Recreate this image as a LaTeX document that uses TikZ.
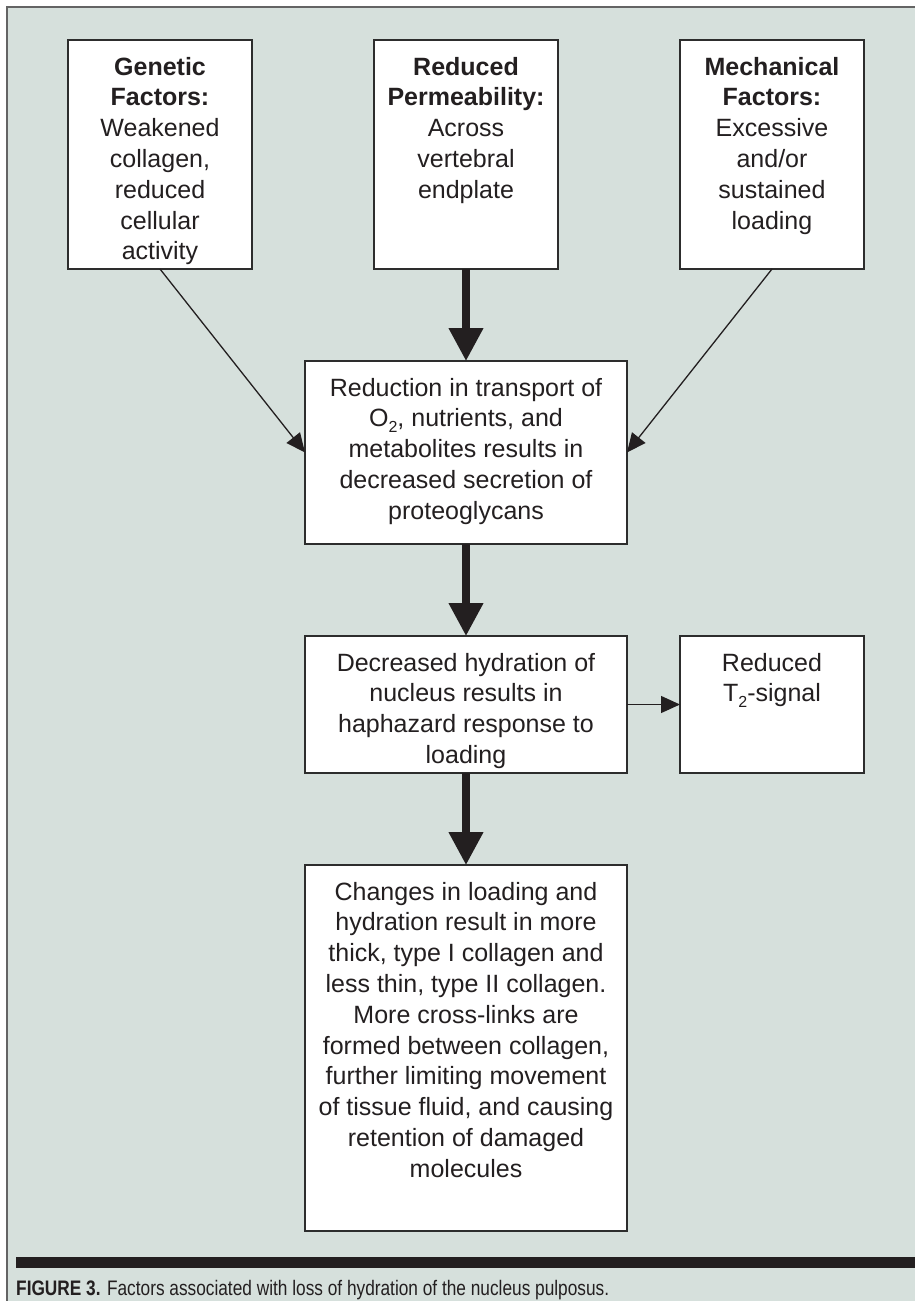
\documentclass[tikz,border=0pt]{standalone}
\usepackage{fontspec}
\setmainfont{Liberation Sans}
\usetikzlibrary{arrows.meta}
\definecolor{bgc}{RGB}{214,224,220}
\definecolor{ink}{RGB}{35,31,32}
\definecolor{boxline}{RGB}{45,45,45}
\definecolor{frameline}{RGB}{100,100,100}
\newcommand\bxt[3]{\parbox[c][#2pt][t]{#1pt}{\vspace*{13.5pt}\centering\strut #3}}
\newcommand\lowsub[1]{\raisebox{-6pt}{\fontsize{16}{16}\selectfont #1}}
\begin{document}
\begin{tikzpicture}[x=1pt,y=-1pt,
  box/.style={draw=boxline, fill=white, line width=1.3pt, inner sep=0pt, outer sep=0pt,
    font=\fontsize{25}{30.8}\selectfont, text=ink},
  thick arrow/.style={draw=ink, line width=7.3pt, -{Triangle[length=33pt,width=33pt]}},
  thin arrow/.style={draw=ink, line width=1.3pt, -{Triangle[length=19pt,width=17pt]}}]
\useasboundingbox (0,0) rectangle (915,1301);
\fill[white] (0,0) rectangle (915,1301);
\fill[bgc] (7,7) rectangle (915,1301);
\draw[frameline, line width=1.3pt] (7,1301) -- (7,7) -- (915,7);

\node[box] (gen) at (160,154.5) {\bxt{184}{229}{\textbf{Genetic}\\\textbf{Factors:}\\Weakened\\collagen,\\reduced\\cellular\\activity}};
\node[box] (perm) at (466,154.5) {\bxt{184}{229}{\textbf{Reduced}\\\textbf{Permeability:}\\Across\\vertebral\\endplate}};
\node[box] (mech) at (772,154.5) {\bxt{184}{229}{\textbf{Mechanical}\\\textbf{Factors:}\\Excessive\\and/or\\sustained\\loading}};
\node[box] (mid) at (466,452.5) {\bxt{322}{183}{Reduction in transport of\\O\lowsub{2}, nutrients, and\\metabolites results in\\decreased secretion of\\proteoglycans}};
\node[box] (dec) at (466,704.5) {\bxt{322}{137}{Decreased hydration of\\nucleus results in\\haphazard response to\\loading}};
\node[box] (t2) at (772,704.5) {\bxt{184}{137}{Reduced\\T\lowsub{2}-signal}};
\node[box] (bot) at (466,1048) {\bxt{322}{366}{Changes in loading and\\hydration result in more\\thick, type I collagen and\\less thin, type II collagen.\\More cross-links are\\formed between collagen,\\further limiting movement\\of tissue fluid, and causing\\retention of damaged\\molecules}};

\draw[thin arrow] (gen.south) -- (mid.west);
\draw[thin arrow] (mech.south) -- (mid.east);
\draw[thick arrow] (perm.south) -- (mid.north);
\draw[thick arrow] (mid.south) -- (dec.north);
\draw[thick arrow] (dec.south) -- (bot.north);
\draw[thin arrow] (dec.east) -- (t2.west);

\fill[ink] (16,1257) rectangle (915,1268);
\node[anchor=base west, inner sep=0pt, text=ink, font=\fontsize{21}{24}\selectfont] (cap) at (16,1295)
  {\resizebox{593pt}{\height}{\textbf{FIGURE 3.} Factors associated with loss of hydration of the nucleus pulposus.}};
\end{tikzpicture}
\end{document}
